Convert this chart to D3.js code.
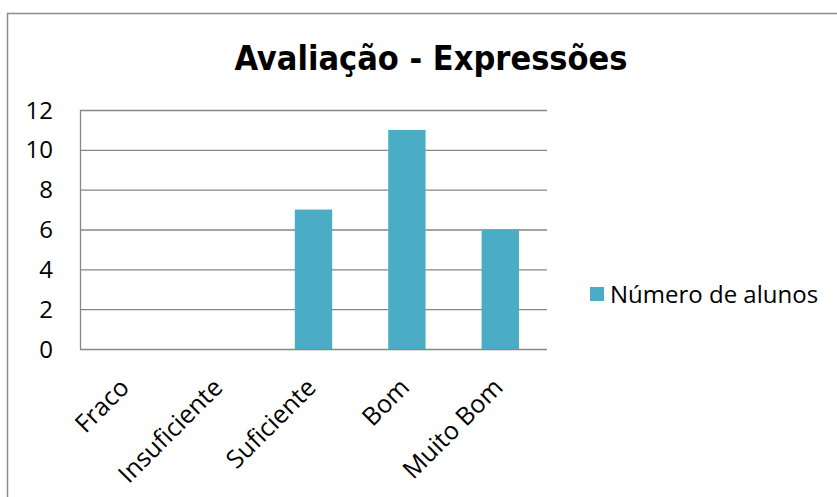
<!DOCTYPE html>
<html>
<head>
<meta charset="utf-8">
<script src="https://cdn.jsdelivr.net/npm/d3@7"></script>
<style>
  body { margin: 0; background: #fff; }
  svg { display: block; }
  .tick-label { font-family: "Open Sans", sans-serif; font-size: 24px; fill: #000; }
  .cat-label { font-family: "Open Sans", sans-serif; font-size: 25px; fill: #000; }
</style>
</head>
<body>
<svg id="chart" width="837" height="497"></svg>
<script>
const categories = ['Fraco', 'Insuficiente', 'Suficiente', 'Bom', 'Muito Bom'];
const alunos = [0, 0, 7, 11, 6];
const yTicks = [0, 2, 4, 6, 8, 10, 12];
const seriesName = 'Número de alunos';
const chartTitle = 'Avaliação - Expressões';

const svg = d3.select('#chart');
const plot = { left: 80, right: 547, top: 110, bottom: 349 };
const barColor = '#4BACC6';
const gridColor = '#868686';

// outer frame of the chart (runs off the right and bottom edges)
svg.append('rect')
    .attr('x', 7.5).attr('y', 13.5)
    .attr('width', 900).attr('height', 600)
    .attr('fill', 'none')
    .attr('stroke', '#8c8c8c')
    .attr('stroke-width', 1.5);

svg.append('text')
    .attr('x', 431).attr('y', 70)
    .attr('text-anchor', 'middle')
    .style('font-family', '"DejaVu Sans Condensed", sans-serif')
    .style('font-weight', 'bold')
    .style('font-size', '34px')
    .text(chartTitle);

const x = d3.scaleBand()
    .domain(categories)
    .range([plot.left, plot.right]);

const y = d3.scaleLinear()
    .domain([0, 12])
    .range([plot.bottom, plot.top]);

// gridlines
svg.append('g')
    .selectAll('line')
    .data(yTicks)
    .enter()
    .append('line')
    .attr('x1', plot.left)
    .attr('x2', plot.right)
    .attr('y1', d => y(d) + 0.5)
    .attr('y2', d => y(d) + 0.5)
    .attr('stroke', gridColor)
    .attr('stroke-width', 1.3);

// left axis line
svg.append('line')
    .attr('x1', plot.left + 0.5).attr('x2', plot.left + 0.5)
    .attr('y1', plot.top).attr('y2', plot.bottom + 1)
    .attr('stroke', gridColor)
    .attr('stroke-width', 1.3);

svg.append('g')
    .selectAll('text')
    .data(yTicks)
    .enter()
    .append('text')
    .attr('class', 'tick-label')
    .attr('x', 53)
    .attr('y', d => y(d))
    .attr('dy', '0.36em')
    .attr('text-anchor', 'end')
    .text(d => d);

// bars
const barW = x.bandwidth() * 0.4;
svg.append('g')
    .selectAll('rect')
    .data(alunos)
    .enter()
    .append('rect')
    .attr('x', (d, i) => x(categories[i]) + (x.bandwidth() - barW) / 2)
    .attr('y', d => y(d))
    .attr('width', barW)
    .attr('height', d => y(0) - y(d))
    .attr('fill', barColor);

// category labels, rotated
svg.append('g')
    .selectAll('text')
    .data(categories)
    .enter()
    .append('text')
    .attr('class', 'cat-label')
    .attr('text-anchor', 'end')
    .attr('transform', d => `translate(${x(d) + x.bandwidth() / 2 + 4}, ${plot.bottom + 40}) rotate(-45)`)
    .text(d => d);

// legend
const legend = svg.append('g').attr('transform', 'translate(590, 287)');
legend.append('rect')
    .attr('width', 14).attr('height', 14)
    .attr('fill', barColor);
legend.append('text')
    .attr('class', 'tick-label')
    .attr('x', 20).attr('y', 7)
    .attr('dy', '0.36em')
    .text(seriesName);
</script>
</body>
</html>
